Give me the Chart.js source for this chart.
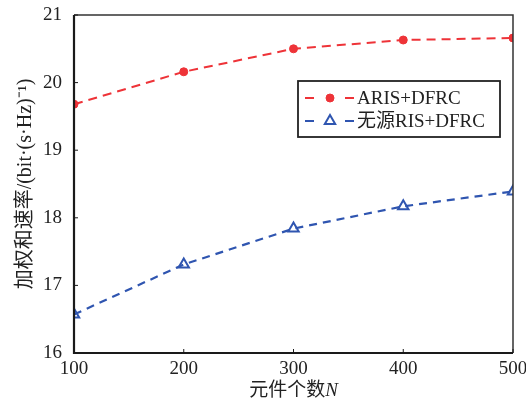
<!DOCTYPE html>
<html><head><meta charset="utf-8">
<script src="https://cdn.jsdelivr.net/npm/chart.js@4/dist/chart.umd.min.js"></script>
<style>html,body{margin:0;padding:0;background:#fff}#wrap{width:526px;height:402px}</style>
</head><body><div id="wrap"><canvas id="c" width="526" height="402"></canvas></div>
<script>
const categories = [100, 200, 300, 400, 500];
const arisValues = [19.68, 20.16, 20.50, 20.63, 20.66];
const passiveValues = [16.57, 17.31, 17.84, 18.17, 18.39];
const seriesNames = ['ARIS+DFRC', '无源RIS+DFRC'];
const yTitle = '加权和速率/(bit·(s·Hz)⁻¹)';
const xTitleMain = '元件个数';
const xTitleVar = 'N';

const FONT = '"Liberation Serif", "Times New Roman", "Noto Sans CJK SC", serif';
const RED = '#ee3338';
const BLUE = '#2f55b0';

const frame = {
  id: 'frame',
  afterDatasetsDraw(chart) {
    const {ctx, chartArea: a} = chart;
    ctx.save();
    ctx.strokeStyle = '#333';
    ctx.lineWidth = 1.5;
    ctx.beginPath();
    ctx.moveTo(a.left, a.top); ctx.lineTo(a.right, a.top); ctx.lineTo(a.right, a.bottom);
    ctx.stroke();
    ctx.strokeStyle = '#1a1a1a';
    ctx.lineWidth = 2.2;
    ctx.beginPath();
    ctx.moveTo(a.left, a.top); ctx.lineTo(a.left, a.bottom); ctx.lineTo(a.right, a.bottom);
    ctx.stroke();
    const ys = chart.scales.y;
    ctx.lineWidth = 1;
    ys.ticks.forEach(t => {
      const y = ys.getPixelForValue(t.value);
      ctx.beginPath(); ctx.moveTo(a.left, y); ctx.lineTo(a.left + 4, y); ctx.stroke();
    });
    const xs = chart.scales.x;
    xs.ticks.forEach(t => {
      const x = xs.getPixelForValue(t.value);
      ctx.beginPath(); ctx.moveTo(x, a.bottom); ctx.lineTo(x, a.bottom - 4); ctx.stroke();
    });

    // x title with italic N
    ctx.fillStyle = '#222';
    ctx.textBaseline = 'middle';
    const f1 = '19px ' + FONT, f2 = 'italic 19px ' + FONT;
    ctx.font = f1; const w1 = ctx.measureText(xTitleMain).width;
    ctx.font = f2; const w2 = ctx.measureText(xTitleVar).width;
    const cx = (a.left + a.right) / 2;
    let x0 = cx - (w1 + w2) / 2;
    ctx.font = f1; ctx.textAlign = 'left'; ctx.fillText(xTitleMain, x0, 391);
    ctx.font = f2; ctx.fillText(xTitleVar, x0 + w1, 391);

    // legend
    const lx = 298, ly = 81, lw = 202, lh = 56;
    ctx.fillStyle = '#fff';
    ctx.fillRect(lx, ly, lw, lh);
    ctx.strokeStyle = '#222'; ctx.lineWidth = 1.8;
    ctx.strokeRect(lx, ly, lw, lh);
    const rows = [ly + 17, ly + 40];
    chart.data.datasets.forEach((ds, i) => {
      const y = rows[i];
      ctx.save();
      ctx.strokeStyle = ds.borderColor; ctx.lineWidth = 2;
      ctx.beginPath(); ctx.moveTo(305, y); ctx.lineTo(314, y); ctx.stroke();
      ctx.beginPath(); ctx.moveTo(345, y); ctx.lineTo(354, y); ctx.stroke();
      ctx.restore();
      ctx.save();
      ctx.fillStyle = ds.pointBackgroundColor; ctx.strokeStyle = ds.pointBorderColor;
      ctx.lineWidth = ds.pointBorderWidth;
      Chart.helpers.drawPoint(ctx, {pointStyle: ds.pointStyle, rotation: 0, radius: ds.pointRadius, borderWidth: ds.pointBorderWidth}, 330, y);
      ctx.restore();
      ctx.fillStyle = '#222'; ctx.font = '19px ' + FONT; ctx.textAlign = 'left';
      ctx.fillText(ds.label, 357, y + 1);
    });
    ctx.restore();
  }
};

new Chart(document.getElementById('c'), {
  type: 'line',
  data: {
    datasets: [
      {
        label: seriesNames[0],
        data: categories.map((c, i) => ({x: c, y: arisValues[i]})),
        borderColor: RED, borderWidth: 2, borderDash: [9, 6],
        pointStyle: 'circle', pointRadius: 4, pointBackgroundColor: RED,
        pointBorderColor: RED, pointBorderWidth: 1, tension: 0
      },
      {
        label: seriesNames[1],
        data: categories.map((c, i) => ({x: c, y: passiveValues[i]})),
        borderColor: BLUE, borderWidth: 2.2, borderDash: [8, 6],
        pointStyle: 'triangle', pointRadius: 6, pointBackgroundColor: 'rgba(255,255,255,0)',
        pointBorderColor: BLUE, pointBorderWidth: 2, tension: 0
      }
    ]
  },
  options: {
    responsive: false, animation: false, devicePixelRatio: 1,
    layout: {padding: {left: 0, right: 13, top: 15, bottom: 0}},
    plugins: {legend: {display: false}, tooltip: {enabled: false}},
    scales: {
      x: {
        type: 'linear', min: 100, max: 500,
        afterFit(s) { s.height = 49; s.paddingLeft = 0; s.paddingRight = 0; },
        grid: {display: false, drawTicks: false}, border: {display: false},
        ticks: {stepSize: 100, color: '#222', padding: 5, maxRotation: 0,
          font: {family: FONT, size: 19}}
      },
      y: {
        min: 16, max: 21,
        afterFit(s) { s.width = 74; s.paddingTop = 0; s.paddingBottom = 0; },
        grid: {display: false, drawTicks: false}, border: {display: false},
        title: {display: true, text: yTitle, color: '#222', padding: {top: 14, bottom: 0},
          font: {family: FONT, size: 20}},
        ticks: {stepSize: 1, color: '#222', padding: 12, font: {family: FONT, size: 19}}
      }
    }
  },
  plugins: [frame]
});
</script></body></html>
